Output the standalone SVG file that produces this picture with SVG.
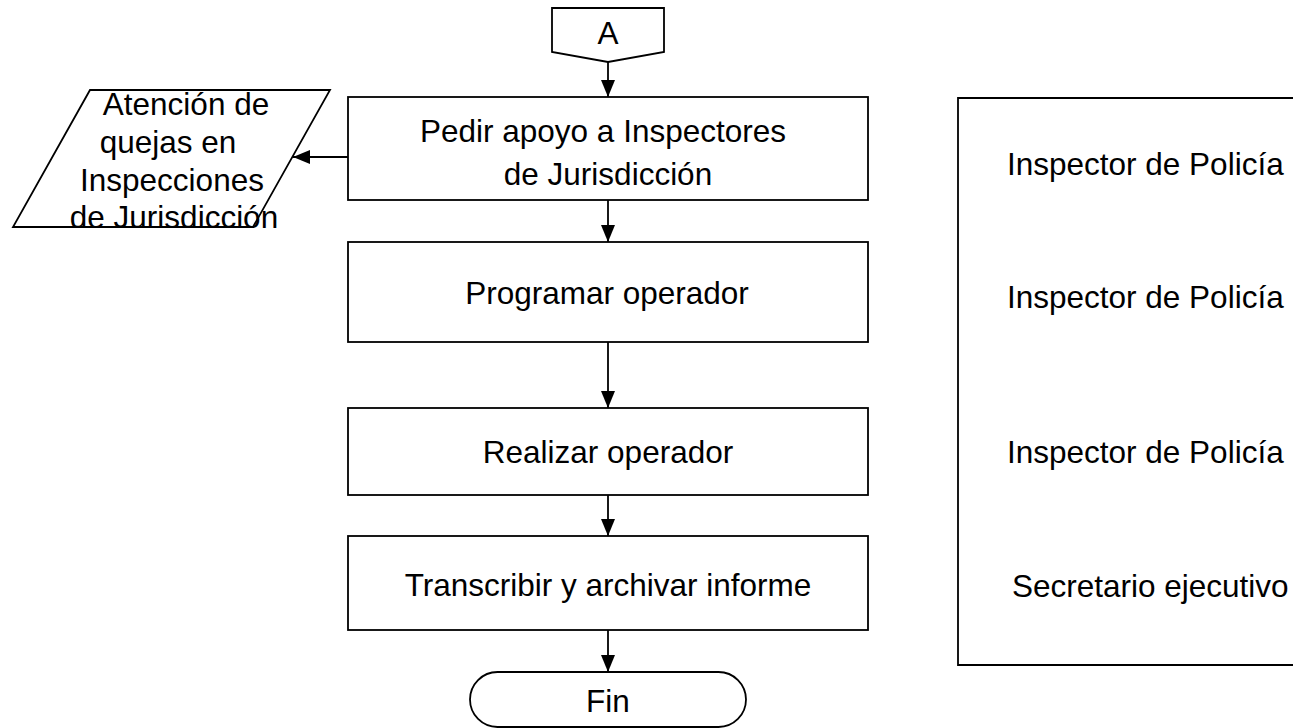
<svg xmlns="http://www.w3.org/2000/svg" width="1293" height="728" viewBox="0 0 1293 728">
<defs>
<style>
.s{fill:#fff;stroke:#000;stroke-width:1.8}
.t{font-family:"Liberation Sans",Arial,sans-serif;font-size:31.5px;fill:#000}
.c{text-anchor:middle}
.e{fill:none;stroke:#000;stroke-width:1.8}
</style>
<marker id="ah" markerWidth="17" markerHeight="14" refX="17" refY="7" orient="auto" markerUnits="userSpaceOnUse">
<path d="M0,0 L17,7 L0,14 Z" fill="#000"/>
</marker>
</defs>
<rect width="1293" height="728" fill="#fff"/>
<g id="connectors">
<line class="e" x1="608" y1="62" x2="608" y2="97" marker-end="url(#ah)"/>
<line class="e" x1="608" y1="200" x2="608" y2="242" marker-end="url(#ah)"/>
<line class="e" x1="608" y1="342" x2="608" y2="408" marker-end="url(#ah)"/>
<line class="e" x1="608" y1="495" x2="608" y2="536" marker-end="url(#ah)"/>
<line class="e" x1="608" y1="630" x2="608" y2="672" marker-end="url(#ah)"/>
<line class="e" x1="348" y1="157" x2="293" y2="157" marker-end="url(#ah)"/>
</g>
<g id="nodeA">
<polygon class="s" points="552,8 664,8 664,52 608,62 552,52"/>
<text class="t c" x="608" y="44">A</text>
</g>
<g id="node1">
<rect class="s" x="348" y="97" width="520" height="103"/>
<text class="t c" x="603" y="142">Pedir apoyo a Inspectores</text>
<text class="t c" x="608" y="185">de Jurisdicción</text>
</g>
<g id="node2">
<rect class="s" x="348" y="242" width="520" height="100"/>
<text class="t c" x="607" y="304">Programar operador</text>
</g>
<g id="node3">
<rect class="s" x="348" y="408" width="520" height="87"/>
<text class="t c" x="608" y="463">Realizar operador</text>
</g>
<g id="node4">
<rect class="s" x="348" y="536" width="520" height="94"/>
<text class="t c" x="608" y="596">Transcribir y archivar informe</text>
</g>
<g id="nodeFin">
<rect class="s" x="470" y="672" width="276" height="55" rx="27.5"/>
<text class="t c" x="608" y="712">Fin</text>
</g>
<g id="nodeData">
<polygon class="s" points="90,90 330,90 253,227 13,227"/>
<text class="t c" x="186" y="115">Atención de</text>
<text class="t c" x="168" y="153">quejas en</text>
<text class="t c" x="172" y="191">Inspecciones</text>
<text class="t c" x="174" y="228">de Jurisdicción</text>
</g>
<g id="responsables">
<path class="e" d="M1293,98 H958 V665 H1293"/>
<text class="t" x="1007" y="175">Inspector de Policía</text>
<text class="t" x="1007" y="308">Inspector de Policía</text>
<text class="t" x="1007" y="463">Inspector de Policía</text>
<text class="t" x="1012" y="597">Secretario ejecutivo</text>
</g>
</svg>
